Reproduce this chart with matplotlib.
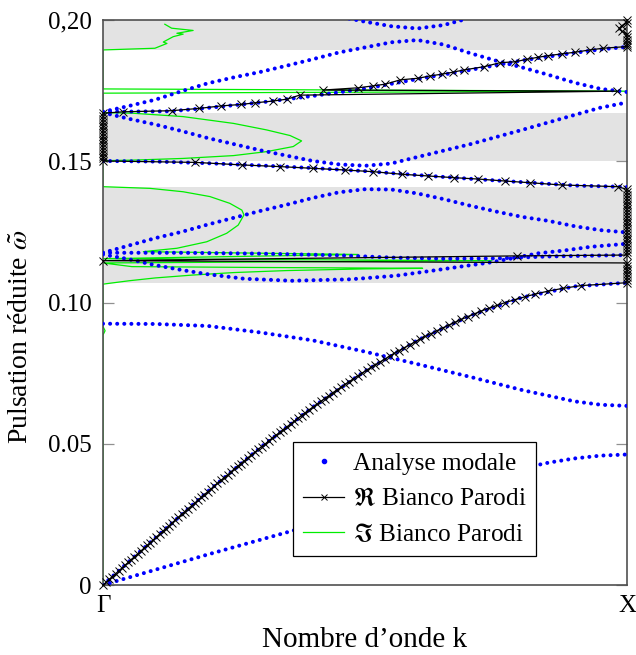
import numpy as np
import matplotlib
matplotlib.use('Agg')
import matplotlib.pyplot as plt
from matplotlib.lines import Line2D

plt.rcParams['font.family'] = ['Liberation Serif', 'DejaVu Serif']
plt.rcParams['mathtext.fontset'] = 'stix'

# band gaps (grey)
gap_lo = [0.1068, 0.1502, 0.1894]
gap_hi = [0.1409, 0.1672, 0.2000]

# modal analysis branches (k from Gamma=0 to X=1, reduced pulsation)
b1_k = [0, 0.1, 0.2, 0.3, 0.4, 0.5, 0.6, 0.7, 0.8, 0.85, 0.9, 0.95, 1]
b1_w = [0, 0.0054, 0.0108, 0.0160, 0.0212, 0.0263, 0.0314, 0.0365, 0.0413, 0.0433, 0.0448, 0.0458, 0.0462]
b2_k = [0, 0.1, 0.2, 0.3, 0.4, 0.5, 0.6, 0.7, 0.8, 0.9, 1]
b2_w = [0, 0.0167, 0.0331, 0.0486, 0.0629, 0.0757, 0.0866, 0.0953, 0.1018, 0.1057, 0.1070]
b3_k = [0, 0.1, 0.2, 0.3, 0.4, 0.5, 0.6, 0.7, 0.8, 0.9, 0.95, 1]
b3_w = [0.0925, 0.0924, 0.0917, 0.0894, 0.0866, 0.0826, 0.0782, 0.0737, 0.0690, 0.0650, 0.0638, 0.0634]
b4_k = [0, 0.05, 0.1, 0.15, 0.2, 0.25, 0.3, 0.35, 0.4, 0.45, 0.5, 0.55, 0.6, 0.65, 0.7, 0.75, 0.8, 0.85, 0.9, 0.95, 1]
b4_w = [0.1176, 0.1202, 0.1228, 0.1250, 0.1276, 0.1300, 0.1324, 0.1346, 0.1370, 0.1390, 0.1401, 0.1400,
        0.1386, 0.1366, 0.1343, 0.1322, 0.1303, 0.1289, 0.1270, 0.1256, 0.1248]
b5_k = [0, 0.05, 0.1, 0.15, 0.2, 0.27, 0.36, 0.47, 0.5, 0.56, 0.63, 0.69, 0.74, 0.78, 0.83, 0.88, 0.93, 1]
b5_w = [0.1170, 0.1153, 0.1132, 0.1115, 0.1100, 0.1084, 0.1077, 0.1082, 0.1086, 0.1095, 0.1113, 0.1129,
        0.1142, 0.1156, 0.1174, 0.1184, 0.1197, 0.1208]
b6_k = [0, 0.15, 0.3, 0.45, 0.55, 0.65, 0.75, 0.85, 1]
b6_w = [0.1176, 0.1176, 0.1173, 0.1167, 0.1159, 0.1155, 0.1156, 0.1163, 0.1168]
b7_k = [0, 0.1, 0.2, 0.3, 0.4, 0.5, 0.6, 0.7, 0.8, 0.9, 1]
b7_w = [0.1501, 0.1499, 0.1493, 0.1485, 0.1476, 0.1465, 0.1451, 0.1438, 0.1426, 0.1414, 0.1409]
b8_k = [0, 0.05, 0.1, 0.15, 0.2, 0.3, 0.4, 0.45, 0.5, 0.55, 0.6, 0.7, 0.8, 0.9, 0.95, 1]
b8_w = [0.1672, 0.1650, 0.1630, 0.1607, 0.1582, 0.1539, 0.1501, 0.1489, 0.1484, 0.1492, 0.1515, 0.1560,
        0.1611, 0.1664, 0.1690, 0.1708]
b9_k = [0, 0.13, 0.2, 0.3, 0.4, 0.5, 0.6, 0.7, 0.8, 0.9, 0.95, 1]
b9_w = [0.1675, 0.1677, 0.1689, 0.1708, 0.1731, 0.1757, 0.1791, 0.1823, 0.1857, 0.1884, 0.1896, 0.1905]
b10_k = [0, 0.05, 0.1, 0.15, 0.2, 0.25, 0.3, 0.35, 0.4, 0.45, 0.5, 0.55, 0.6, 0.65, 0.7, 0.75, 0.8, 0.85, 0.9, 0.95, 1]
b10_w = [0.1675, 0.1696, 0.1718, 0.1748, 0.1776, 0.1797, 0.1816, 0.1838, 0.1861, 0.1885, 0.1903, 0.1921,
         0.1929, 0.1913, 0.1883, 0.1856, 0.1832, 0.1806, 0.1778, 0.1756, 0.1745]
b11_k = [0.47, 0.5, 0.55, 0.6, 0.65, 0.69]
b11_w = [0.2005, 0.1994, 0.1978, 0.1970, 0.1982, 0.2002]

modal_bands = [(b1_k, b1_w), (b2_k, b2_w), (b3_k, b3_w), (b4_k, b4_w), (b5_k, b5_w), (b6_k, b6_w),
               (b7_k, b7_w), (b8_k, b8_w), (b9_k, b9_w), (b10_k, b10_w), (b11_k, b11_w)]

# Bianco Parodi, real part (frequency sweep)
ac_w = np.linspace(0, 0.107, 108)
ac_k = [0, 0.006, 0.012, 0.018, 0.024, 0.030, 0.036, 0.042, 0.048, 0.054,
        0.060, 0.066, 0.072, 0.078, 0.084, 0.090, 0.096, 0.102, 0.108, 0.114,
        0.120, 0.126, 0.132, 0.138, 0.144, 0.150, 0.156, 0.162, 0.169, 0.175,
        0.181, 0.187, 0.193, 0.200, 0.206, 0.212, 0.218, 0.225, 0.231, 0.238,
        0.244, 0.250, 0.257, 0.263, 0.270, 0.276, 0.283, 0.290, 0.296, 0.303,
        0.310, 0.316, 0.323, 0.330, 0.337, 0.344, 0.351, 0.358, 0.365, 0.372,
        0.379, 0.386, 0.393, 0.401, 0.408, 0.416, 0.423, 0.431, 0.438, 0.446,
        0.454, 0.462, 0.470, 0.478, 0.486, 0.494, 0.503, 0.511, 0.520, 0.529,
        0.538, 0.547, 0.556, 0.565, 0.575, 0.585, 0.595, 0.605, 0.615, 0.626,
        0.637, 0.648, 0.660, 0.672, 0.684, 0.696, 0.709, 0.722, 0.737, 0.752,
        0.768, 0.786, 0.805, 0.825, 0.849, 0.877, 0.913, 1.0]
stack1_w = np.arange(0.108, 0.1145, 0.001)
jump_k = [0.0, 0.79, 1.0]
jump_w = [0.1148, 0.1165, 0.1168]
stack2_w = np.arange(0.118, 0.1405, 0.001)
segc_k = [0.983, 0.875, 0.815, 0.767, 0.716, 0.669, 0.621, 0.570, 0.516, 0.462, 0.401, 0.338, 0.265, 0.176, 0.0]
segc_w = [0.1410, 0.1416, 0.1424, 0.1430, 0.1437, 0.1442, 0.1448, 0.1454, 0.1463, 0.1469, 0.1475, 0.1481,
          0.1487, 0.1496, 0.1501]
stack3_w = np.arange(0.151, 0.1675, 0.001)
sege_k = [0.038, 0.131, 0.183, 0.226, 0.263, 0.291, 0.324, 0.352, 0.375, 0.980, 0.420, 0.487, 0.516,
          0.539, 0.567, 0.602, 0.624, 0.646, 0.667, 0.688, 0.728, 0.758, 0.786, 0.809, 0.830, 0.850,
          0.875, 0.901, 0.929, 0.954, 1.0]
sege_w = [0.1675, 0.1679, 0.1687, 0.1696, 0.1701, 0.1707, 0.1713, 0.1720, 0.1734, 0.1748, 0.1752, 0.1760,
          0.1767, 0.1773, 0.1788, 0.1794, 0.1802, 0.1808, 0.1815, 0.1823, 0.1835, 0.1849, 0.1852, 0.1861,
          0.1868, 0.1874, 0.1880, 0.1886, 0.1894, 0.1900, 0.1906]
segf_k = [1, 1, 1, 1, 1, 0.99, 0.985, 0.99, 1, 1]
segf_w = [0.191, 0.192, 0.193, 0.194, 0.195, 0.196, 0.197, 0.198, 0.199, 0.200]

bp_k = np.concatenate([ac_k, np.ones(len(stack1_w)), jump_k, np.ones(len(stack2_w)), segc_k,
                       np.zeros(len(stack3_w)), sege_k, segf_k])
bp_w = np.concatenate([ac_w, stack1_w, jump_w, stack2_w, segc_w, stack3_w, sege_w, segf_w])

# Bianco Parodi, imaginary part
im_k = [0, 0, 0.004, 0, 0, 0.05, 0.1, 0.17, 0.25, 0.35, 0.5, 0.61, 0.3, 0.055, 0.0, 0.742, 0.0, 0.487,
        0.077, 0.141, 0.198, 0.236, 0.258, 0.269, 0.265, 0.242, 0.204, 0.153, 0.090, 0.0,
        0.0, 0.057, 0.153, 0.249, 0.312, 0.363, 0.379, 0.357, 0.312, 0.249, 0.153, 0.057, 0.0,
        0.0, 1.0, 0.0, 0.0, 0.099, 0.122, 0.115, 0.134, 0.153, 0.141, 0.172, 0.131, 0.118]
im_w = [0, 0.0885, 0.0900, 0.0915, 0.1065, 0.1077, 0.1087, 0.1097, 0.1106, 0.1113, 0.1119, 0.1121, 0.1124,
        0.1127, 0.1140, 0.1148, 0.1155, 0.1170,
        0.1180, 0.1192, 0.1215, 0.1245, 0.1274, 0.1310, 0.1327, 0.1351, 0.1375, 0.1392, 0.1404, 0.1410,
        0.1502, 0.1504, 0.1510, 0.1520, 0.1534, 0.1552, 0.1572, 0.1591, 0.1611, 0.1634, 0.1658, 0.1670, 0.1672,
        0.1741, 0.1748, 0.1756, 0.1894, 0.1900, 0.1917, 0.1922, 0.1941, 0.1950, 0.1953, 0.1963, 0.1971, 0.1985]

y_ticks = [0, 0.05, 0.10, 0.15, 0.20]
y_tick_labels = ['0', '0.05', '0.10', '0.15', '0,20']
x_ticks = [0, 1]
x_tick_labels = ['Γ', 'X']

fig = plt.figure(figsize=(6.36, 6.55), dpi=100)
ax = fig.add_axes([103 / 636, 1 - 585 / 655, 524 / 636, 565 / 655])

for lo, hi in zip(gap_lo, gap_hi):
    ax.axhspan(lo, hi, color='#e3e3e3', lw=0, zorder=0)

ax.plot(im_k, im_w, color='#00ee00', lw=0.9, zorder=2)

for bk, bw in modal_bands:
    ax.plot(bk, bw, color='blue', lw=2.9, ls=(0, (0.01, 1.75)), dash_capstyle='round', zorder=3)

ax.plot(bp_k, bp_w, color='black', lw=0.9, marker='x', ms=5.5, mew=0.7, zorder=4, clip_on=False)

ax.set_xlim(0, 1)
ax.set_ylim(0, 0.2)
ax.set_yticks(y_ticks)
ax.set_yticklabels(y_tick_labels)
ax.set_xticks(x_ticks)
ax.set_xticklabels(x_tick_labels)
ax.tick_params(axis='y', direction='in', length=8, width=0.9, color='#909090', right=True,
               labelsize=18, pad=8)
ax.tick_params(axis='x', length=0, labelsize=18, pad=7)
for s in ax.spines.values():
    s.set_color('#505050')
    s.set_linewidth(1.2)

ax.set_xlabel('Nombre d’onde k', fontsize=21)
ax.set_ylabel('Pulsation réduite $\\tilde{\\omega}$', fontsize=20)
ax.xaxis.set_label_coords(0.5, -0.075)
ax.yaxis.set_label_coords(-0.134, 0.44)

h1 = Line2D([], [], ls='none', marker='o', ms=3, color='blue')
h2 = Line2D([], [], color='black', lw=0.9, marker='x', ms=5, mew=0.7)
h3 = Line2D([], [], color='#00ee00', lw=0.9)
leg = ax.legend([h1, h2, h3], ['Analyse modale', '$\\Re$ Bianco Parodi', '$\\Im$ Bianco Parodi'],
                loc='lower left', bbox_to_anchor=(0.363, 0.0513), borderaxespad=0, fancybox=False,
                edgecolor='black', framealpha=1, fontsize=18.2, handlelength=1.6, handletextpad=0.35,
                labelspacing=0.5, borderpad=0.4)
leg.get_frame().set_linewidth(0.9)

plt.savefig('out.png', dpi=100)
